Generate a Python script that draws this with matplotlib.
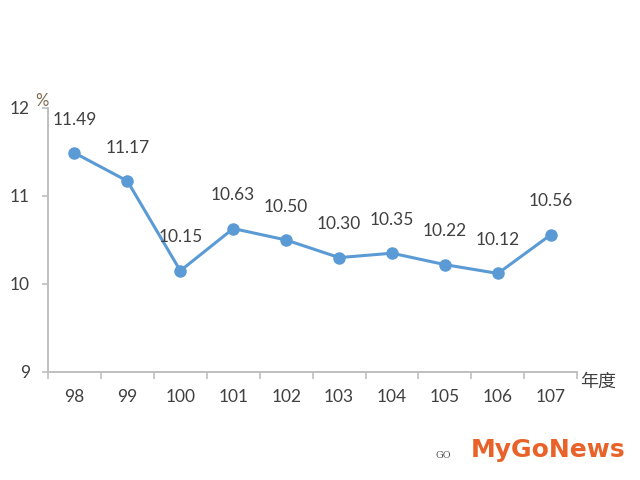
import matplotlib.pyplot as plt

plt.rcParams['font.family'] = ['Lato', 'Noto Sans CJK TC', 'DejaVu Sans']

# 年度 vs 比率 (%)
years = ['98', '99', '100', '101', '102', '103', '104', '105', '106', '107']
values = [11.49, 11.17, 10.15, 10.63, 10.50, 10.30, 10.35, 10.22, 10.12, 10.56]

blue = '#5B9BD5'
axis_gray = '#BFBFBF'
text_gray = '#404040'

fig = plt.figure(figsize=(6.4, 4.8), dpi=100)
ax = fig.add_axes([0.075, 0.225, 0.827, 0.55])

x = list(range(len(years)))
ax.plot(x, values, color=blue, linewidth=2.2, marker='o', markersize=8,
        markerfacecolor=blue, markeredgecolor=blue)

for xi, v in zip(x, values):
    ax.annotate(f'{v:.2f}', (xi, v), xytext=(0, 24), textcoords='offset points',
                ha='center', va='center', fontsize=12.5, color=text_gray)

ax.set_xlim(-0.5, len(years) - 0.5)
ax.set_ylim(9, 12)
ax.set_yticks([9, 10, 11, 12])
ax.set_yticklabels(['9', '10', '11', '12'])

# category labels centred, ticks on category boundaries
ax.set_xticks(x)
ax.set_xticklabels(years)
ax.set_xticks([i - 0.5 for i in range(len(years) + 1)], minor=True)
ax.tick_params(axis='x', which='major', length=0, pad=12, labelsize=12.5, labelcolor=text_gray)
ax.tick_params(axis='x', which='minor', length=5, color=axis_gray, width=1.2)
ax.tick_params(axis='y', length=4, color=axis_gray, width=1.2, pad=9,
               labelsize=12.5, labelcolor=text_gray)

for side in ['top', 'right']:
    ax.spines[side].set_visible(False)
for side in ['left', 'bottom']:
    ax.spines[side].set_color(axis_gray)
    ax.spines[side].set_linewidth(1.4)

fig.text(0.066, 0.79, '%', fontsize=12, color='#7F6A4F', ha='center', va='center')
fig.text(0.935, 0.205, '年度', fontsize=13, color=text_gray, ha='center', va='center',
         family=['Noto Sans CJK TC', 'DejaVu Sans'])

# watermark
fig.text(0.977, 0.062, 'MyGoNews', fontsize=18, fontweight='bold', color='#E8622A',
         ha='right', va='center', family=['DejaVu Sans'])
fig.text(0.693, 0.052, 'GO', fontsize=7, color='#555555', ha='center', va='center',
         family=['DejaVu Serif'])

fig.savefig('out.png', dpi=100)
